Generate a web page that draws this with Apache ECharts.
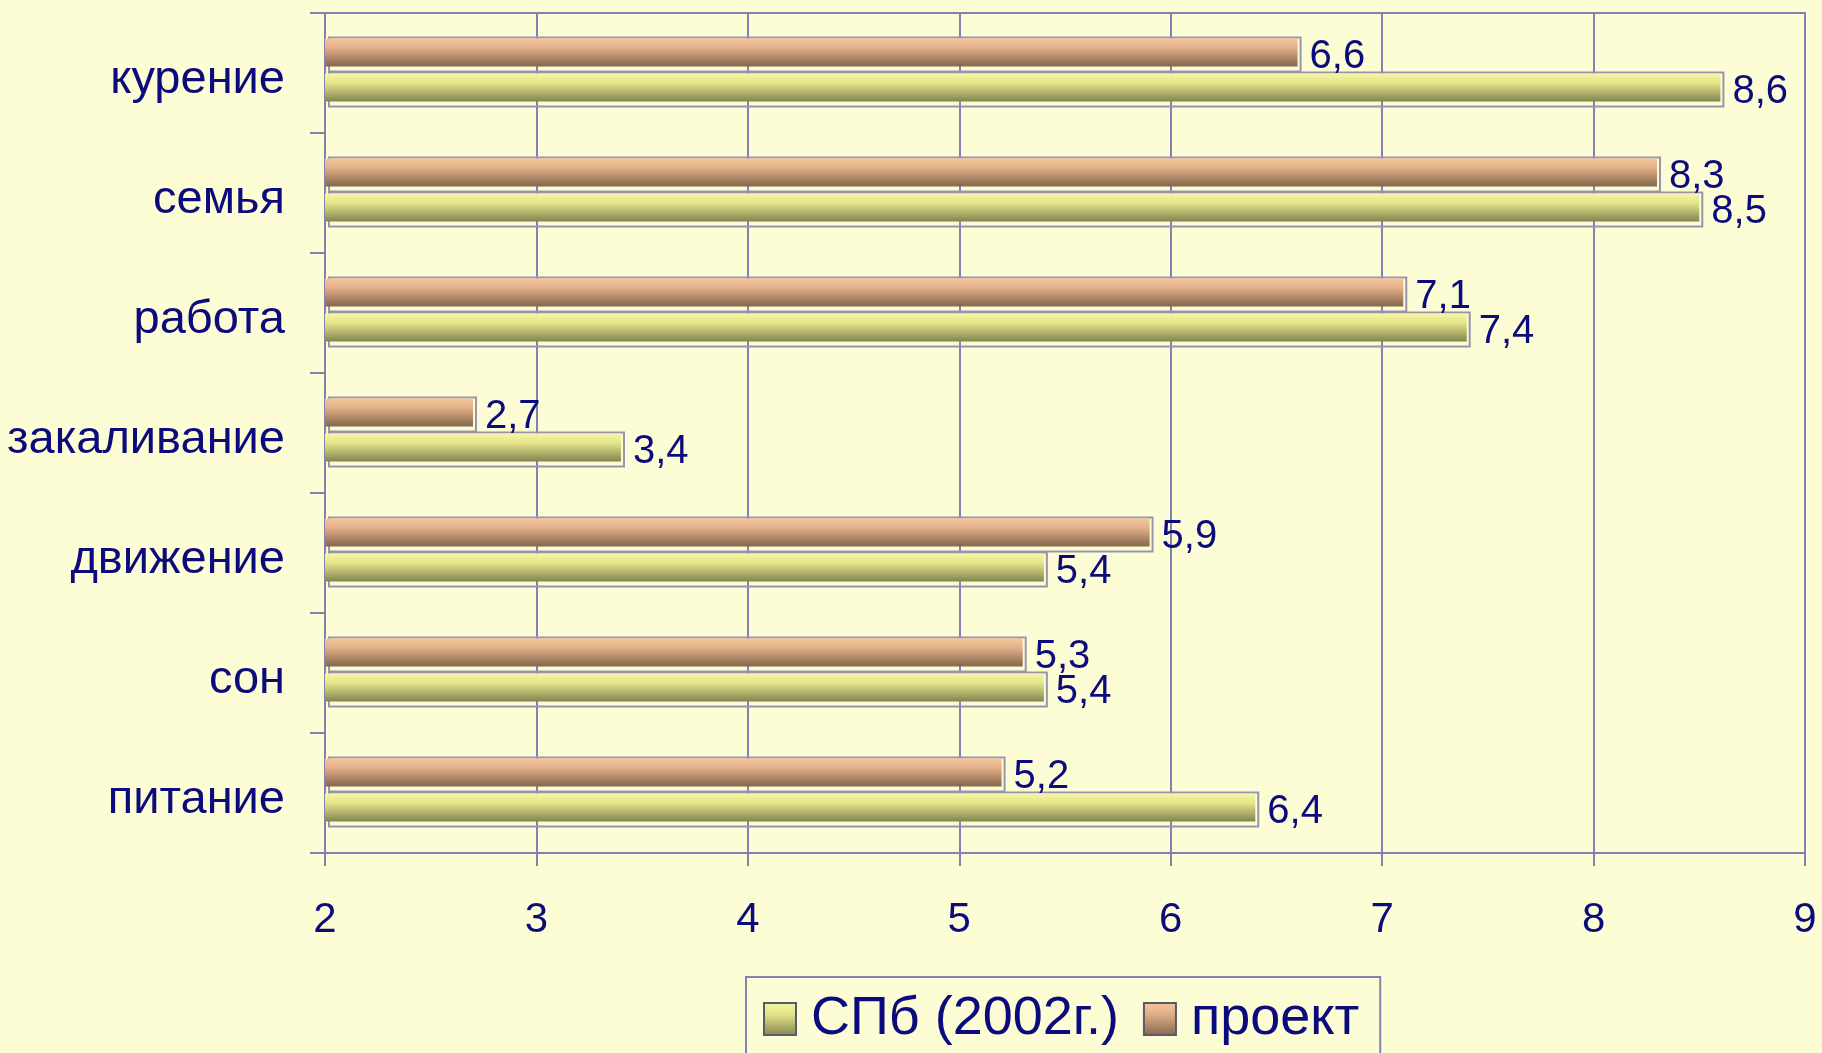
<!DOCTYPE html>
<html>
<head>
<meta charset="utf-8">
<title>chart</title>
<script src="https://cdn.jsdelivr.net/npm/echarts@6/dist/echarts.min.js"></script>
<style>
  html, body { margin: 0; padding: 0; background: #fdfdd5; }
  #main { width: 1822px; height: 1053px; }
</style>
</head>
<body>
<div id="main"></div>
<script>
// data, top to bottom
var categories = ['курение', 'семья', 'работа', 'закаливание', 'движение', 'сон', 'питание'];
var spb = [8.6, 8.5, 7.4, 3.4, 5.4, 5.4, 6.4];
var proekt = [6.6, 8.3, 7.1, 2.7, 5.9, 5.3, 5.2];
var seriesNames = ['СПб (2002г.)', 'проект'];
var xMin = 2, xMax = 9, xStep = 1;

var navy = '#0b0b7d';
var lineColor = '#8282b2';
var font = 'Liberation Sans, Arial, sans-serif';

function grad(top, mid, bottom) {
  return new echarts.graphic.LinearGradient(0, 0, 0, 1, [
    { offset: 0, color: top },
    { offset: 0.35, color: mid },
    { offset: 1, color: bottom }
  ]);
}
var greenFill = grad('#f6f6a6', '#e4e48a', '#83834f');
var orangeFill = grad('#f6c69a', '#e0ae88', '#85664b');

function valAxis(i, show) {
  return {
    type: 'value', gridIndex: i, min: xMin, max: xMax, interval: xStep, show: show,
    axisLine: { show: true, lineStyle: { color: lineColor, width: 2 } },
    axisTick: { show: true, length: 13, lineStyle: { color: lineColor, width: 2 } },
    axisLabel: { color: navy, fontSize: 42, fontFamily: font, margin: 46 },
    splitLine: { show: true, lineStyle: { color: lineColor, width: 2 } }
  };
}
function catAxis(i, show) {
  return {
    type: 'category', gridIndex: i, data: categories, inverse: true, show: show,
    axisLine: { show: true, lineStyle: { color: lineColor, width: 2 } },
    axisTick: { show: true, length: 15, lineStyle: { color: lineColor, width: 2 } },
    axisLabel: {
      margin: 40,
      formatter: function (v) { return '{c|' + v + '}'; },
      rich: { c: { color: navy, fontSize: 47, fontFamily: font, padding: [14, 0, 0, 0] } }
    }
  };
}

var lbl = {
  show: true, position: 'right', distance: 12, offset: [0, 4],
  color: navy, fontSize: 40, fontFamily: font,
  formatter: function (p) { return String(p.value).replace('.', ','); }
};

function outline(name, data) {
  return {
    name: name + ' ', type: 'bar', xAxisIndex: 2, yAxisIndex: 2, data: data,
    barWidth: 36, barGap: '-3%', silent: true, z: 1,
    itemStyle: { color: 'rgba(0,0,0,0)', borderColor: '#9a93ae', borderWidth: 2 }
  };
}
function fill(name, data, color) {
  return {
    name: name, type: 'bar', xAxisIndex: 1, yAxisIndex: 1, data: data,
    barWidth: 28, barGap: '25%', z: 3,
    itemStyle: { color: color },
    label: lbl
  };
}

var chart = echarts.init(document.getElementById('main'));
chart.setOption({
  backgroundColor: '#fdfdd5',
  animation: false,
  grid: [
    { left: 325, right: 17, top: 13, height: 840, show: true, borderColor: lineColor, borderWidth: 2 },
    { left: 325, right: 17, top: 10, height: 840 },
    { left: 329, right: 13, top: 12, height: 840 }
  ],
  xAxis: [valAxis(0, true), valAxis(1, false), valAxis(2, false)],
  yAxis: [catAxis(0, true), catAxis(1, false), catAxis(2, false)],
  legend: {
    data: seriesNames, left: 746, top: 977, icon: 'rect',
    padding: [15, 21, 40, 17], itemWidth: 32, itemHeight: 32, itemGap: 24,
    borderColor: lineColor, borderWidth: 2, backgroundColor: '#fdfdd5',
    itemStyle: { borderColor: '#5a5a6a', borderWidth: 2 },
    textStyle: { color: navy, fontSize: 54, fontFamily: font, padding: [0, 0, 0, 10] }
  },
  series: [
    outline(seriesNames[1], proekt),
    outline(seriesNames[0], spb),
    fill(seriesNames[1], proekt, orangeFill),
    fill(seriesNames[0], spb, greenFill)
  ]
});
</script>
</body>
</html>
